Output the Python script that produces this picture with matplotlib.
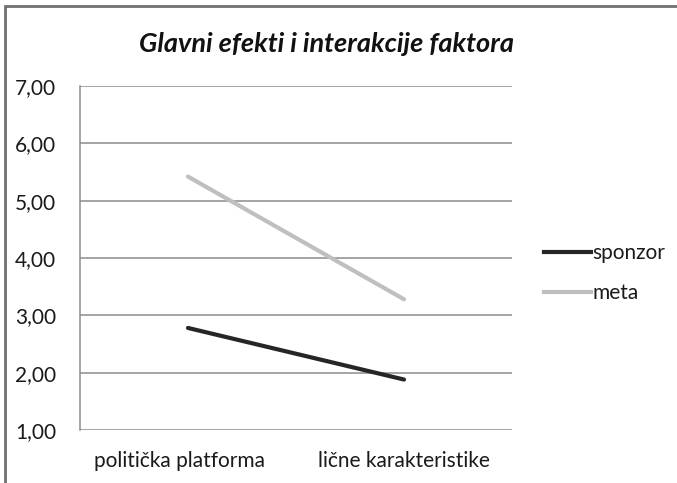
import matplotlib.pyplot as plt
import matplotlib.transforms as mtransforms
from matplotlib.lines import Line2D
from matplotlib.patches import Rectangle

categories = ["politička platforma", "lične karakteristike"]
sponzor = [2.78, 1.88]
meta = [5.42, 3.28]
y_ticks = [1, 2, 3, 4, 5, 6, 7]

plt.rcParams['font.family'] = ['Lato', 'DejaVu Sans']

fig = plt.figure(figsize=(6.77, 4.83), dpi=100)
ax = fig.add_axes([80 / 677, 1 - 430 / 483, 432 / 677, 344 / 483])

x = [0, 1]
ax.plot(x, meta, color="#bfbfbf", linewidth=3.0, solid_capstyle="round", label="meta")
ax.plot(x, sponzor, color="#262626", linewidth=3.0, solid_capstyle="round", label="sponzor")

ax.set_xlim(-0.5, 1.5)
ax.set_ylim(1, 7)
ax.set_yticks(y_ticks)
ax.set_yticklabels([f"{v:.2f}".replace(".", ",") for v in y_ticks], fontsize=15, color="#1a1a1a")
ax.set_xticks(x)
ax.set_xticklabels(categories, fontsize=15, color="#1a1a1a")
ax.tick_params(length=0)
ax.tick_params(axis="x", pad=15)
ax.tick_params(axis="y", pad=17)
ax.grid(axis="y", color="#8c8c8c", linewidth=1.1)
ax.set_axisbelow(True)
for s in ["top", "right", "bottom"]:
    ax.spines[s].set_visible(False)
ax.spines["left"].set_color("#8c8c8c")
ax.spines["left"].set_linewidth(1.1)

# first category label sits a bit left of its point in the original
lbl = ax.get_xticklabels()[0]
lbl.set_transform(lbl.get_transform() + mtransforms.ScaledTranslation(-9 / 100, 0, fig.dpi_scale_trans))

fig.text(0.483, 1 - 44 / 483, "Glavni efekti i interakcije faktora", ha="center", va="center",
         fontsize=19.5, style="italic", fontweight="bold", color="#111111")

handles = [Line2D([], [], color="#262626", linewidth=3.0),
           Line2D([], [], color="#bfbfbf", linewidth=3.0)]
fig.legend(handles, ["sponzor", "meta"], loc="center left",
           bbox_to_anchor=(525 / 677, 1 - 273 / 483), frameon=False, fontsize=15,
           handlelength=2.25, handletextpad=0.1, labelspacing=0.95, labelcolor="#1a1a1a")

fig.patches.append(Rectangle((5 / 677, -0.1), 1.2, 1 - 6 / 483 + 0.1, transform=fig.transFigure,
                             fill=False, edgecolor="#707070", linewidth=2))

fig.savefig("out.png", dpi=100)
